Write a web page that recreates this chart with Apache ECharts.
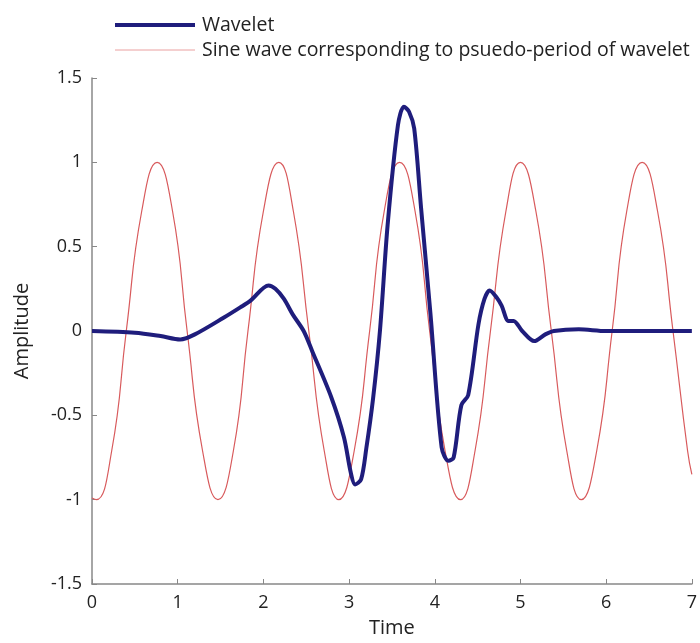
<!DOCTYPE html>
<html>
<head>
<meta charset="utf-8">
<script src="https://cdn.jsdelivr.net/npm/echarts@6/dist/echarts.min.js"></script>
<style>
  html, body { margin: 0; padding: 0; background: #fff; }
  #chart { width: 700px; height: 643px; }
</style>
</head>
<body>
<div id="chart"></div>
<script>
// wavelet
const waveletTime = [0, 0.5, 0.8, 1.03, 1.2, 1.54, 1.73, 1.85, 2.06, 2.14, 2.24, 2.34, 2.47, 2.57, 2.79, 2.94, 3.02, 3.07, 3.14, 3.2, 3.28, 3.36, 3.45, 3.57, 3.64, 3.7, 3.76, 3.84, 3.95, 4.08, 4.16, 4.22, 4.31, 4.39, 4.51, 4.58, 4.64, 4.72, 4.78, 4.86, 4.92, 5.02, 5.16, 5.29, 5.39, 5.68, 6.0, 6.5, 7.0]
const waveletAmp  = [0, -0.01, -0.03, -0.05, -0.02, 0.08, 0.14, 0.18, 0.27, 0.25, 0.19, 0.1, 0, -0.12, -0.39, -0.63, -0.84, -0.91, -0.88, -0.7, -0.4, 0, 0.63, 1.22, 1.33, 1.3, 1.2, 0.73, 0.1, -0.69, -0.77, -0.75, -0.44, -0.38, 0.04, 0.19, 0.24, 0.2, 0.15, 0.06, 0.06, 0, -0.06, -0.02, 0, 0.01, 0, 0, 0]

// sine at the wavelet pseudo-period, read at peaks / crossings
const sineTime = [0, 0.05, 0.23, 0.4, 0.58, 0.76, 0.94, 1.11, 1.29, 1.47, 1.65, 1.82, 2.0, 2.18, 2.35, 2.53, 2.71, 2.88, 3.06, 3.24, 3.41, 3.59, 3.77, 3.94, 4.12, 4.3, 4.47, 4.65, 4.83, 5.0, 5.18, 5.36, 5.54, 5.71, 5.89, 6.07, 6.24, 6.42, 6.6, 6.78, 6.95, 7.0]
const sineAmp  = [-0.99, -1, -0.71, 0, 0.71, 1, 0.71, 0, -0.71, -1, -0.71, 0, 0.71, 1, 0.71, 0, -0.71, -1, -0.71, 0, 0.71, 1, 0.71, 0, -0.71, -1, -0.71, 0, 0.71, 1, 0.71, 0, -0.71, -1, -0.71, 0, 0.71, 1, 0.71, 0, -0.71, -0.85]

const legendNames = ['Wavelet', 'Sine wave corresponding to psuedo-period of wavelet']

const font = '"Open Sans", sans-serif'
const waveColor = '#1f1d7c'
const sineColor = '#d85a5c'
const chart = echarts.init(document.getElementById('chart'))

chart.setOption({
  animation: false,
  backgroundColor: '#fff',
  textStyle: { fontFamily: font },
  legend: {
    orient: 'vertical',
    left: 108,
    top: 10,
    itemWidth: 80,
    itemHeight: 14,
    itemGap: 5,
    itemStyle: { opacity: 0 },
    data: [
      { name: legendNames[0], lineStyle: { width: 4, color: waveColor } },
      { name: legendNames[1], lineStyle: { width: 1, color: '#eaa0a0' } },
    ],
    textStyle: { fontFamily: font, fontSize: 19.5, lineHeight: 20, color: '#222', padding: [0, 0, 0, 2] },
  },
  grid: {
    left: 92,
    right: 8,
    top: 78,
    bottom: 53,
  },
  xAxis: {
    type: 'value',
    min: 0,
    max: 7,
    interval: 1,
    name: 'Time',
    nameLocation: 'middle',
    nameGap: 34,
    nameTextStyle: { fontFamily: font, fontSize: 20, color: '#222' },
    axisLine: { onZero: false, lineStyle: { color: '#888', width: 1.5 } },
    axisTick: { inside: true, length: 5, lineStyle: { color: '#888' } },
    axisLabel: { fontFamily: font, fontSize: 18, color: '#222', margin: 10 },
    splitLine: { show: false },
  },
  yAxis: {
    type: 'value',
    min: -1.5,
    max: 1.5,
    interval: 0.5,
    name: 'Amplitude',
    nameLocation: 'middle',
    nameGap: 60,
    nameTextStyle: { fontFamily: font, fontSize: 20, color: '#222' },
    axisLine: { show: true, onZero: false, lineStyle: { color: '#888', width: 1.5 } },
    axisTick: { show: true, inside: true, length: 5, lineStyle: { color: '#888' } },
    axisLabel: { fontFamily: font, fontSize: 18, color: '#222', margin: 10 },
    splitLine: { show: false },
  },
  series: [
    {
      name: legendNames[0],
      type: 'line',
      data: waveletTime.map((t, i) => [t, waveletAmp[i]]),
      symbol: 'none',
      smooth: 0.3,
      z: 3,
      lineStyle: { color: waveColor, width: 4 },
      itemStyle: { color: waveColor },
    },
    {
      name: legendNames[1],
      type: 'line',
      data: sineTime.map((t, i) => [t, sineAmp[i]]),
      symbol: 'none',
      smooth: 0.5,
      z: 2,
      lineStyle: { color: sineColor, width: 1.2 },
      itemStyle: { color: sineColor },
    },
  ],
})
</script>
</body>
</html>
